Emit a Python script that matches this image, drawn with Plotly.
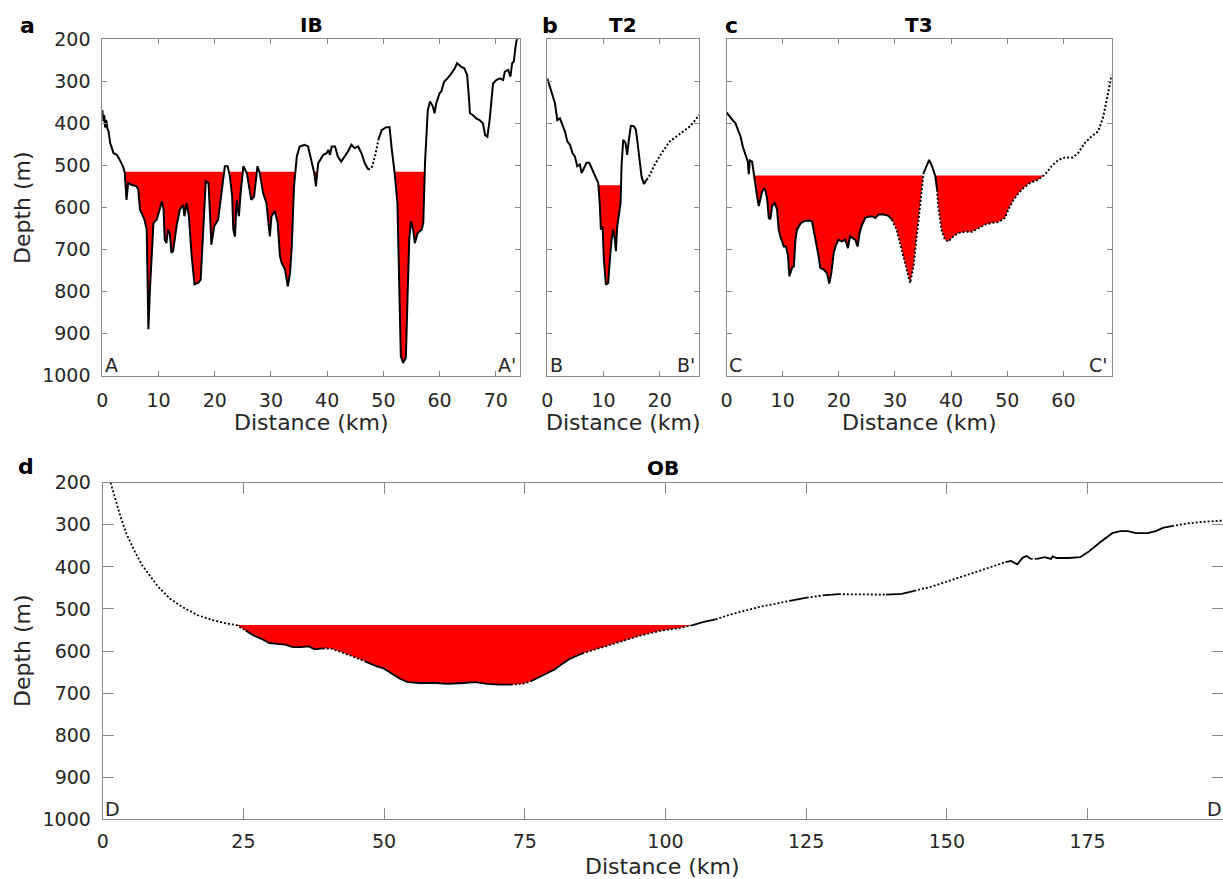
import plotly.graph_objects as go

# ---------------- data ----------------
ib_km = [0, 0.2, 0.35, 0.5, 0.7, 0.9, 1.1, 1.4, 2.0, 2.6, 3.1, 3.7, 4.0, 4.3, 4.6, 5.2, 6.1, 6.4, 6.7, 7.5,
         7.9, 8.2, 8.5, 9.1, 9.7, 10.3, 10.6, 10.9, 11.1, 11.4, 11.7, 12.0, 12.3, 12.6, 13.2, 13.8, 14.4, 14.6, 15.0, 15.4,
         15.9, 16.4, 17.1, 17.5, 18.0, 18.4, 18.9, 19.1, 19.4, 19.9, 20.6, 21.2, 21.8, 22.3, 22.7, 23.1, 23.3, 23.6, 23.9, 24.3,
         24.6, 25.1, 25.7, 26.5, 27.0, 27.6, 28.0, 28.6, 29.2, 29.8, 30.1, 30.7, 31.2, 31.6, 31.9, 32.5, 33.0, 33.4, 33.7, 34.1,
         34.6, 35.1, 36.0, 36.6, 37.2, 37.7, 38.0, 38.4, 39.3, 39.9, 40.2, 40.5, 40.8, 41.4, 41.9, 42.5, 43.1, 43.7, 44.3, 44.9,
         45.5, 46.1, 46.7, 47.3, 47.9, 48.5, 49.1, 49.7, 50.5, 51.1, 51.5, 52.0, 52.5, 52.8, 53.1, 53.5, 54.0, 54.3, 54.6, 54.9,
         55.3, 55.6, 56.1, 56.8, 57.1, 57.4, 57.9, 58.3, 58.8, 59.1, 59.4, 60.0, 60.3, 60.8, 61.4, 62.1, 62.7, 63.1, 63.8, 64.4,
         64.9, 65.2, 65.4, 65.9, 66.5, 67.1, 67.7, 68.1, 68.5, 68.9, 69.5, 70.1, 70.7, 71.3, 71.6, 72.2, 72.6, 72.9, 73.2, 73.5,
         73.7, 74.0]
ib_depth = [368, 395, 380, 410, 392, 412, 418, 447, 471, 475, 487, 503, 518, 582, 542, 546, 550, 558, 605, 629,
            653, 890, 788, 637, 629, 598, 586, 605, 677, 685, 653, 661, 708, 704, 645, 605, 594, 621, 590, 621,
            716, 783, 779, 772, 653, 538, 542, 613, 689, 645, 629, 566, 502, 502, 526, 574, 653, 669, 582, 621,
            566, 502, 518, 582, 574, 502, 518, 566, 590, 669, 621, 609, 637, 716, 732, 748, 788, 756, 693, 550,
            479, 455, 451, 455, 487, 518, 550, 495, 475, 471, 463, 475, 455, 455, 479, 491, 479, 467, 451, 459,
            455, 471, 495, 510, 506, 479, 439, 416, 409, 409, 463, 518, 590, 772, 954, 970, 958, 811, 677, 633,
            653, 685, 661, 653, 637, 495, 368, 348, 360, 376, 352, 328, 324, 301, 293, 281, 269, 257, 265, 269,
            285, 337, 376, 380, 388, 392, 400, 428, 432, 392, 305, 297, 293, 297, 277, 273, 289, 257, 253, 218,
            202, 196]
ib_threshold = 515
ib_dotted = [(47.4, 49.0)]

t2_km = [0, 0.47, 0.95, 1.36, 1.78, 2.25, 2.67, 3.14, 3.56, 4.03, 4.5, 4.92, 5.33, 5.81, 6.1, 6.52, 6.99, 7.47, 7.88, 8.3,
         8.77, 9.07, 9.36, 9.54, 9.84, 10.07, 10.43, 10.84, 11.14, 11.44, 11.73, 12.03, 12.21, 12.44, 12.8, 13.04, 13.21,
         13.51, 13.93, 14.22, 14.52, 14.87, 15.41, 15.76, 16.0, 16.36, 16.77, 17.19, 17.66, 17.96, 19.14, 20.33, 21.8,
         23.0, 24.2, 25.4, 26.3, 27.0]
t2_depth = [293, 312, 336, 352, 392, 388, 403, 419, 443, 451, 471, 479, 502, 498, 518, 506, 494, 494, 506, 518,
            534, 542, 597, 653, 645, 724, 784, 780, 724, 677, 653, 677, 704, 645, 613, 590, 502,
            439, 447, 475, 439, 406, 407, 415, 439, 479, 526, 544, 534, 530, 498, 471, 443,
            431, 419, 407, 393, 380]
t2_threshold = 547
t2_dotted = [(17.66, 27.0)]

t3_km = [0, 0.53, 1.13, 1.6, 2.07, 2.49, 2.9, 3.38, 3.79, 3.97, 4.15, 4.56, 4.86, 5.16, 5.45, 5.75, 6.05, 6.34, 6.81, 7.23,
         7.53, 7.82, 8.12, 8.59, 9.0, 9.3, 9.6, 10.2, 10.6, 10.96, 11.2, 11.67, 12.0, 12.27, 12.56, 13.16, 13.75, 14.64,
         15.23, 15.53, 15.82, 16.1, 16.4, 16.7, 17.3, 17.9, 18.3, 18.67, 19.1, 19.5, 19.97, 20.56, 21.16, 21.63, 22.0,
         22.46, 22.93, 23.35, 23.7, 24.1, 24.7, 25.3, 25.9, 26.5, 27.1, 27.97, 28.86, 29.45, 30.3, 31.2, 32.1, 32.7, 33.3,
         33.9, 34.5, 35.1, 35.5, 36.1, 36.6, 36.9, 37.2, 37.5, 37.7, 38.3, 38.9, 39.5, 40.4, 41.3, 42.5, 43.7, 44.9, 46.0,
         47.2, 48.4, 49.6, 50.2, 51.1, 52.0, 52.9, 54.0, 55.5, 56.7, 57.9, 59.1, 60.3, 61.7, 62.6, 63.8, 65.0, 66.2, 67.1,
         68.0, 68.6]
t3_depth = [374, 384, 393, 400, 415, 431, 455, 475, 491, 521, 488, 491, 522, 550, 574, 597, 582, 562, 554, 578,
            625, 628, 597, 590, 605, 653, 669, 693, 693, 716, 764, 744, 740, 677, 653, 639, 633, 631,
            633, 653, 673, 693, 716, 744, 748, 756, 781, 756, 708, 689, 677, 681, 677, 697, 669,
            673, 677, 693, 661, 643, 625, 622, 621, 625, 617, 617, 620, 629, 653, 700, 748, 780, 740,
            661, 582, 518, 506, 487, 502, 514, 526, 558, 597, 653, 677, 681, 669, 661, 658, 658, 649, 641,
            637, 635, 625, 605, 582, 566, 554, 542, 534, 522, 502, 487, 481, 481, 471, 447, 431, 419, 384,
            320, 285]
t3_threshold = 524
t3_dotted = [(29.2, 35.0), (37.6, 68.6)]

ob_km = [1.4, 2.1, 3.2, 4.2, 5.6, 7.0, 8.5, 9.9, 12.0, 14.1, 16.9, 19.7, 22.2, 23.9, 25.4, 26.8, 28.2, 29.6, 31.0, 32.4,
         33.8, 35.2, 36.6, 37.7, 39.1, 40.5, 42.3, 44.4, 46.5, 48.6, 50.0, 51.4, 52.8, 54.2, 56.3, 59.2, 61.3, 64.1, 66.2,
         68.3, 70.4, 72.5, 74.6, 76.1, 78.2, 80.3, 81.7, 83.1, 85.2, 87.3, 89.4, 91.5, 95.6, 99.1, 102.6, 104.7, 106.8,
         108.9, 111.1, 113.9, 116.7, 119.5, 122.3, 125.1, 127.96, 130.8, 133.6, 136.4, 139.2, 142.0, 144.2, 147.0, 149.8,
         152.6, 155.4, 158.2, 160.4, 161.4, 162.5, 163.5, 164.2, 164.9, 166.0, 167.4, 168.5, 168.8, 169.5, 171.6, 173.7,
         175.1, 177.3, 179.4, 180.8, 182.2, 183.6, 185.7, 187.1, 188.5, 190.0, 192.7, 195.6, 197.7, 199.0]
ob_depth = [200, 234, 282, 321, 361, 396, 424, 448, 476, 495, 515, 527, 535, 539, 551, 563, 571, 581, 583, 585,
            591, 591, 589, 596, 594, 594, 602, 613, 624, 636, 642, 654, 666, 674, 676, 676, 678, 676, 674,
            678, 680, 680, 678, 672, 658, 644, 630, 618, 606, 597, 589, 579, 563, 552, 545, 539, 531,
            525, 515, 505, 495, 488, 480, 473, 468, 465, 465, 466, 466, 464, 457, 448, 436,
            424, 412, 400, 389, 386, 394, 378, 374, 381, 381, 377, 381, 375, 379, 379, 377,
            365, 341, 320, 315, 315, 320, 320, 315, 307, 303, 297, 293, 291, 290]
ob_threshold = 538
ob_dotted = [(1.4, 25.4), (39.1, 46.5), (72.5, 77.0), (86.0, 104.7), (110.0, 121.0), (124.5, 128.0),
             (132.0, 140.0), (145.0, 160.4), (165.0, 166.5), (190.5, 199.0)]

panel_titles = ["IB", "T2", "T3", "OB"]
panel_letters = ["a", "b", "c", "d"]
corner_labels = [("A", "A'"), ("B", "B'"), ("C", "C'"), ("D", "D'")]
x_limits = [74.3, 27.0, 68.6, 199.0]
x_steps = [10, 10, 10, 25]
depth_limits = [1000, 200]

# ---------------- helpers ----------------
W, H = 1223, 879
FONT = "DejaVu Sans"
TXT = "#262626"
AXC = "#8a8a8a"


def px(x):
    return x / W


def py(y):
    return 1 - y / H


def fill_polys(xs, ys, thr):
    """Closed polygons between the threshold depth and the deeper parts of a profile."""
    fx, fy = [], []
    run = []

    def flush():
        if len(run) >= 3:
            if fx:
                fx.append(None)
                fy.append(None)
            fx.extend(p[0] for p in run)
            fy.extend(p[1] for p in run)
        run.clear()

    for i in range(len(xs)):
        below = ys[i] > thr
        if i > 0:
            y0, y1 = ys[i - 1], ys[i]
            if (y0 - thr) * (y1 - thr) < 0:
                t = (thr - y0) / (y1 - y0)
                run.append((xs[i - 1] + t * (xs[i] - xs[i - 1]), thr))
                if not below:
                    flush()
        if below:
            if not run:
                run.append((xs[i], thr))
            run.append((xs[i], ys[i]))
        elif run:
            run.append((xs[i], thr))
            flush()
    if run:
        run.append((run[-1][0], thr))
        flush()
    return fx, fy


def split_lines(xs, ys, dotted):
    sx, sy, dx, dy = [], [], [], []
    prev = None
    for i in range(len(xs) - 1):
        m = 0.5 * (xs[i] + xs[i + 1])
        is_dot = any(a <= m <= b for a, b in dotted)
        tx, ty = (dx, dy) if is_dot else (sx, sy)
        if prev != is_dot:
            if tx:
                tx.append(None)
                ty.append(None)
            tx.append(xs[i])
            ty.append(ys[i])
        tx.append(xs[i + 1])
        ty.append(ys[i + 1])
        prev = is_dot
    return sx, sy, dx, dy


fig = go.Figure()


def add_profile(n, km, depth, thr, dotted, lw):
    xa = "x" if n == 1 else f"x{n}"
    ya = "y" if n == 1 else f"y{n}"
    fx, fy = fill_polys(km, depth, thr)
    fig.add_trace(go.Scatter(x=fx, y=fy, mode="lines", fill="toself", fillcolor="#ff0000",
                             line=dict(width=0, color="#ff0000"), xaxis=xa, yaxis=ya, hoverinfo="skip"))
    sx, sy, dx, dy = split_lines(km, depth, dotted)
    fig.add_trace(go.Scatter(x=sx, y=sy, mode="lines", line=dict(color="black", width=lw),
                             xaxis=xa, yaxis=ya, connectgaps=False))
    fig.add_trace(go.Scatter(x=dx, y=dy, mode="lines", line=dict(color="black", width=lw, dash="2px,2px"),
                             xaxis=xa, yaxis=ya, connectgaps=False))


add_profile(1, ib_km, ib_depth, ib_threshold, ib_dotted, 2)
add_profile(2, t2_km, t2_depth, t2_threshold, t2_dotted, 2)
add_profile(3, t3_km, t3_depth, t3_threshold, t3_dotted, 2)
add_profile(4, ob_km, ob_depth, ob_threshold, ob_dotted, 1.8)

# panel geometry in pixels: (left, right, top, bottom)
boxes = [(102.3, 520.0, 39.3, 375.5), (547.3, 699.0, 39.3, 375.5),
         (726.5, 1111.7, 39.3, 375.5), (102.7, 1222.6, 482.7, 819.3)]
ticklens = [5, 5, 5, 11]
xstandoffs = [8, 8, 8, 5]

layout = dict(width=W, height=H, margin=dict(l=0, r=0, t=0, b=0, autoexpand=False), plot_bgcolor="white",
              paper_bgcolor="white", showlegend=False, font=dict(family=FONT, color=TXT))
for i, (l, r, t, b) in enumerate(boxes):
    n = i + 1
    common = dict(showline=True, linecolor=AXC, linewidth=1, mirror="allticks", ticks="inside",
                  ticklen=ticklens[i], tickwidth=1, tickcolor=AXC, showgrid=False, zeroline=False,
                  automargin=False, tickfont=dict(family=FONT, size=19, color=TXT))
    xk = "xaxis" if n == 1 else f"xaxis{n}"
    yk = "yaxis" if n == 1 else f"yaxis{n}"
    layout[xk] = dict(common, domain=[px(l), px(r)], range=[0, x_limits[i]], tick0=0, dtick=x_steps[i],
                      anchor="y" if n == 1 else f"y{n}", ticklabelstandoff=xstandoffs[i])
    layout[yk] = dict(common, domain=[py(b), py(t)], range=depth_limits, tick0=0, dtick=100,
                      anchor="x" if n == 1 else f"x{n}", showticklabels=(n in (1, 4)), ticklabelstandoff=7)
fig.update_layout(**layout)

ann = []


def add_text(text, x, y, size, xanchor="center", angle=0):
    ann.append(dict(text=text, x=px(x), y=py(y), xref="paper", yref="paper", showarrow=False,
                    xanchor=xanchor, yanchor="middle", textangle=angle,
                    font=dict(family=FONT, size=size, color="black" if "<b>" in text else TXT)))


title_pos = [(311, 25), (623, 25), (919, 25), (663, 468)]
letter_pos = [(27, 25), (550, 25), (731, 25), (26, 466)]
for i in range(4):
    add_text(f"<b>{panel_titles[i]}</b>", *title_pos[i], 20)
    add_text(f"<b>{panel_letters[i]}</b>", *letter_pos[i], 22)

for i, (l, r, t, b) in enumerate(boxes):
    add_text("Distance (km)", (l + r) / 2, 422 if i < 3 else 866, 22)
    ybase = b - 10.5
    add_text(corner_labels[i][0], l + 0.5, ybase, 19, xanchor="left")
    if i < 3:
        add_text(corner_labels[i][1], r - 2, ybase, 19, xanchor="right")
    else:
        add_text(corner_labels[i][1], 1205, ybase, 19, xanchor="left")

add_text("Depth (m)", 22, 208, 22, angle=-90)
add_text("Depth (m)", 22, 651, 22, angle=-90)

fig.update_layout(annotations=ann)
fig.write_html("out.html", config={"displayModeBar": False},
               post_script="document.body.style.margin='0';document.body.style.overflow='hidden';")
